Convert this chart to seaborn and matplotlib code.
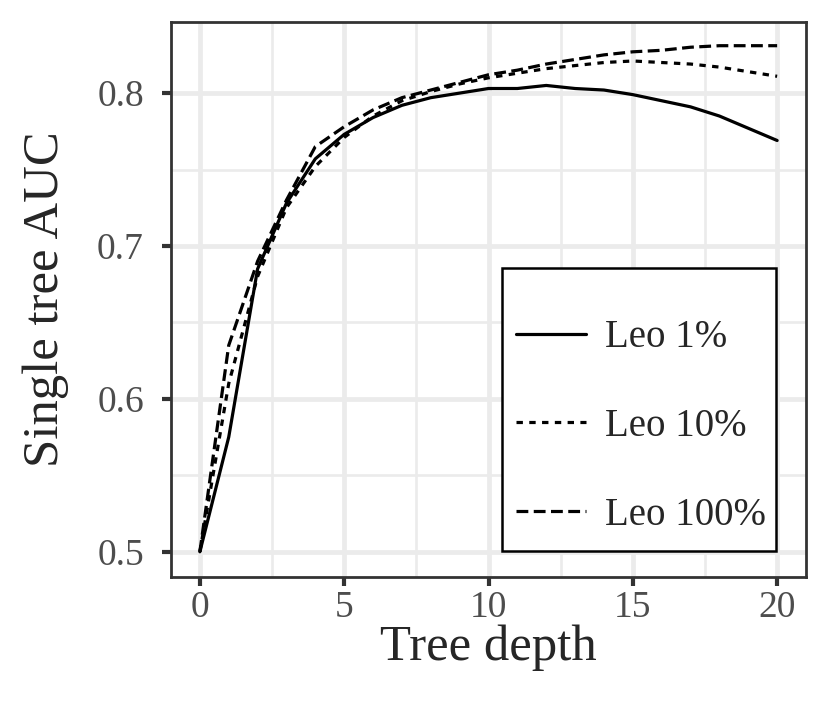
import numpy as np
import pandas as pd
import matplotlib
matplotlib.use("Agg")
import matplotlib.pyplot as plt
from matplotlib.patches import Rectangle
from matplotlib.ticker import MultipleLocator
import seaborn as sns

depth = list(range(21))
leo_1 = [0.500, 0.575, 0.685, 0.728, 0.757, 0.773, 0.784, 0.792, 0.797, 0.800,
         0.803, 0.803, 0.805, 0.803, 0.802, 0.799, 0.795, 0.791, 0.785, 0.777, 0.769]
leo_10 = [0.500, 0.610, 0.680, 0.725, 0.752, 0.771, 0.785, 0.795, 0.801, 0.806,
          0.810, 0.813, 0.816, 0.818, 0.820, 0.821, 0.820, 0.819, 0.817, 0.814, 0.811]
leo_100 = [0.500, 0.635, 0.690, 0.730, 0.765, 0.778, 0.789, 0.797, 0.802, 0.807,
           0.812, 0.815, 0.819, 0.822, 0.825, 0.827, 0.828, 0.830, 0.831, 0.831, 0.831]
labels = ["Leo 1%", "Leo 10%", "Leo 100%"]

df = pd.DataFrame({
    "depth": depth * 3,
    "auc": leo_1 + leo_10 + leo_100,
    "model": [labels[0]] * 21 + [labels[1]] * 21 + [labels[2]] * 21,
})

sns.set_theme(style="white")
plt.rcParams["font.family"] = ["Liberation Serif", "DejaVu Serif"]

fig = plt.figure(figsize=(8.3, 7.25), dpi=100)
ax = fig.add_axes([171 / 830, 1 - 577 / 725, 635 / 830, 555 / 725])

sns.lineplot(data=df, x="depth", y="auc", style="model", style_order=labels,
             dashes=["", (2, 2), (3.7, 1.7)], color="black", linewidth=2.3,
             ax=ax, legend=True)

ax.set_xlim(-1, 21)
ax.set_ylim(0.4835, 0.8465)
ax.xaxis.set_major_locator(MultipleLocator(5))
ax.xaxis.set_minor_locator(MultipleLocator(2.5))
ax.yaxis.set_major_locator(MultipleLocator(0.1))
ax.yaxis.set_minor_locator(MultipleLocator(0.05))
ax.set_yticks([0.5, 0.6, 0.7, 0.8])
ax.set_yticklabels(["0.5", "0.6", "0.7", "0.8"])
ax.grid(which="major", color="#EBEBEB", linewidth=3.4)
ax.grid(which="minor", color="#EBEBEB", linewidth=1.9)
ax.set_axisbelow(True)
for s in ax.spines.values():
    s.set_color("#333333")
    s.set_linewidth(2.0)
ax.tick_params(which="major", axis="both", direction="out", length=6.5, width=3,
               color="#333333", labelsize=27, labelcolor="#4D4D4D",
               bottom=True, left=True)
ax.tick_params(axis="x", which="major", pad=3)
ax.tick_params(axis="y", which="major", pad=13)
ax.tick_params(which="minor", length=0)
ax.set_xlabel("Tree depth", fontsize=36.5, labelpad=0)
ax.set_ylabel("Single tree AUC", fontsize=36.5, labelpad=20)

# legend box (theme-style frame with empty title space on top)
ax.add_patch(Rectangle((0.521, 0.047), 0.432, 0.51, transform=ax.transAxes,
                       facecolor="white", edgecolor="black", linewidth=1.8,
                       zorder=4.5))
handles, _ = ax.get_legend_handles_labels()
leg = ax.legend(handles=handles, labels=labels, fontsize=28,
                loc="center left", bbox_to_anchor=(0.543, 0.271),
                frameon=False, handlelength=1.8, handletextpad=0.5,
                labelspacing=1.33, borderpad=0, borderaxespad=0)
leg.set_zorder(5)

fig.savefig("out.png", dpi=100)
